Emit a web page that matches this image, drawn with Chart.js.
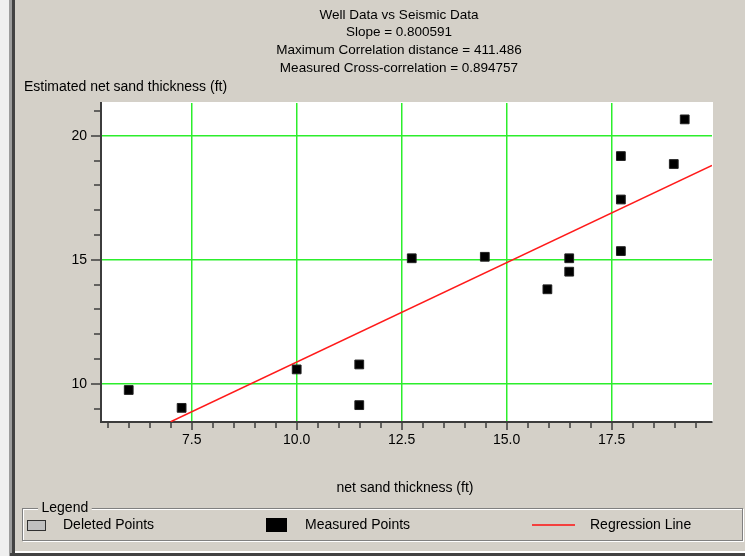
<!DOCTYPE html>
<html>
<head>
<meta charset="utf-8">
<script src="https://cdn.jsdelivr.net/npm/chart.js@4.4.0/dist/chart.umd.min.js"></script>
<style>
  html, body { margin: 0; padding: 0; background: #d4d0c8; }
  canvas { display: block; }
</style>
</head>
<body>
<canvas id="chart" width="745" height="556"></canvas>
<script>
// ===== Data =====
const MEASURED_X = [6.0, 7.26, 10.0, 11.49, 11.49, 12.74, 14.48, 15.97, 16.49, 16.49, 17.72, 17.72, 17.72, 18.98, 19.24];
const MEASURED_Y = [9.75, 9.03, 10.58, 10.78, 9.14, 15.06, 15.12, 13.81, 15.06, 14.52, 19.18, 17.43, 15.35, 18.86, 20.66];
const REG_X = [7.0, 19.89];
const REG_Y = [8.47, 18.8];

const X_MIN = 5.34, X_MAX = 19.89;
const Y_MIN = 8.46, Y_MAX = 21.32;
const X_MAJOR = 2.5, X_MINOR = 0.5;
const Y_MAJOR = 5, Y_MINOR = 1;

const TITLE_LINES = [
  'Well Data vs Seismic Data',
  'Slope = 0.800591',
  'Maximum Correlation distance = 411.486',
  'Measured Cross-correlation = 0.894757'
];
const Y_TITLE = 'Estimated net sand thickness (ft)';
const X_TITLE = 'net sand thickness (ft)';
const LEGEND_TITLE = 'Legend';
const LEGEND_ITEMS = ['Deleted Points', 'Measured Points', 'Regression Line'];

// ===== Styles =====
const FONT = '"Liberation Sans", Arial, sans-serif';
const BG = '#d4d0c8';
const GREEN = '#2cee2c';
const AXIS = '#3c3c3c';

const isMajor = (v, step) => Math.abs(v / step - Math.round(v / step)) < 1e-6;

// ---- background, window edges, tick marks, texts and the legend box ----
const framePlugin = {
  id: 'frame',
  beforeDraw(chart) {
    const { ctx, chartArea: a, width, height } = chart;
    ctx.save();
    ctx.fillStyle = BG;
    ctx.fillRect(0, 0, width, height);
    // left window edge
    ctx.fillStyle = '#efefef'; ctx.fillRect(0, 0, 9, height);
    ctx.fillStyle = '#9c9c9c'; ctx.fillRect(9, 0, 3, height);
    ctx.fillStyle = '#424242'; ctx.fillRect(12, 0, 3, height - 3);
    // bottom window edge
    ctx.fillStyle = '#ffffff'; ctx.fillRect(15, height - 5, width - 15, 2);
    ctx.fillStyle = '#424242'; ctx.fillRect(10, height - 3, width - 10, 3);
    // plot background
    ctx.fillStyle = '#ffffff';
    ctx.fillRect(a.left, a.top - 1, a.right - a.left + 1, a.bottom - a.top + 1);
    ctx.restore();
  },
  afterDraw(chart) {
    const { ctx, chartArea: a } = chart;
    const xs = chart.scales.x, ys = chart.scales.y;
    ctx.save();

    // tick marks (minor ticks shorter)
    ctx.strokeStyle = AXIS;
    ctx.lineWidth = 1.5;
    xs.ticks.forEach(t => {
      const px = Math.round(xs.getPixelForValue(t.value));
      const len = isMajor(t.value, X_MAJOR) ? 7 : 5;
      ctx.beginPath(); ctx.moveTo(px, a.bottom); ctx.lineTo(px, a.bottom + 1 + len); ctx.stroke();
    });
    ys.ticks.forEach(t => {
      const py = Math.round(ys.getPixelForValue(t.value));
      const len = isMajor(t.value, Y_MAJOR) ? 9 : 6;
      ctx.beginPath(); ctx.moveTo(a.left, py); ctx.lineTo(a.left - 1 - len, py); ctx.stroke();
    });

    // titles
    ctx.fillStyle = '#000';
    ctx.textBaseline = 'middle';
    ctx.textAlign = 'center';
    ctx.font = `13.5px ${FONT}`;
    TITLE_LINES.forEach((s, i) => ctx.fillText(s, 399, 15 + i * 17.7));
    ctx.font = `14px ${FONT}`;
    ctx.textAlign = 'left';
    ctx.fillText(Y_TITLE, 24, 87);
    ctx.textAlign = 'center';
    ctx.fillText(X_TITLE, 405, 488);

    // legend group box (etched)
    const gx = 22, gy = 508, gr = 742, gb = 540;
    ctx.lineWidth = 1;
    ctx.strokeStyle = '#ffffff';
    ctx.strokeRect(gx + 1.5, gy + 1.5, gr - gx, gb - gy);
    ctx.strokeStyle = '#808080';
    ctx.strokeRect(gx + 0.5, gy + 0.5, gr - gx, gb - gy);
    ctx.textAlign = 'left';
    const lw = ctx.measureText(LEGEND_TITLE).width;
    ctx.fillStyle = BG;
    ctx.fillRect(38, gy - 3, lw + 7, 6);
    ctx.fillStyle = '#000';
    ctx.fillText(LEGEND_TITLE, 41.5, gy);

    // legend items
    const ly = 525;
    ctx.fillStyle = '#c0c0c0';
    ctx.fillRect(27, 520, 19, 11);
    ctx.strokeStyle = '#303030';
    ctx.strokeRect(27.5, 520.5, 18, 10);
    ctx.fillStyle = '#000';
    ctx.fillText(LEGEND_ITEMS[0], 63, ly);

    ctx.fillRect(266, 518, 21, 14);
    ctx.fillText(LEGEND_ITEMS[1], 305, ly);

    ctx.strokeStyle = '#ff1010';
    ctx.lineWidth = 1.5;
    ctx.beginPath(); ctx.moveTo(532, ly); ctx.lineTo(575, ly); ctx.stroke();
    ctx.fillText(LEGEND_ITEMS[2], 590, ly);

    ctx.restore();
  }
};

new Chart(document.getElementById('chart'), {
  type: 'scatter',
  data: {
    datasets: [
      {
        label: LEGEND_ITEMS[1],
        data: MEASURED_X.map((x, i) => ({ x, y: MEASURED_Y[i] })),
        pointStyle: 'rect',
        pointRadius: 6.2,
        backgroundColor: '#000',
        borderColor: '#222',
        borderWidth: 1,
        order: 1
      },
      {
        label: LEGEND_ITEMS[2],
        type: 'line',
        data: REG_X.map((x, i) => ({ x, y: REG_Y[i] })),
        borderColor: '#ff1a1a',
        borderWidth: 1.5,
        pointRadius: 0,
        fill: false,
        order: 2
      }
    ]
  },
  options: {
    responsive: false,
    animation: false,
    events: [],
    layout: { padding: { left: 0, right: 33, top: 103, bottom: 94 } },
    plugins: {
      legend: { display: false },
      title: { display: false },
      tooltip: { enabled: false }
    },
    scales: {
      x: {
        type: 'linear',
        min: X_MIN,
        max: X_MAX,
        afterFit: s => { s.height = 40; },
        ticks: {
          stepSize: X_MINOR,
          includeBounds: false,
          autoSkip: false,
          maxRotation: 0,
          padding: 10,
          color: '#000',
          font: { family: FONT, size: 14 },
          callback: v => isMajor(v, X_MAJOR) ? v.toFixed(1) : ''
        },
        grid: {
          color: c => (c.tick && isMajor(c.tick.value, X_MAJOR)) ? GREEN : 'rgba(0,0,0,0)',
          lineWidth: 1.5,
          drawTicks: false
        },
        border: { color: AXIS, width: 2 }
      },
      y: {
        type: 'linear',
        min: Y_MIN,
        max: Y_MAX,
        afterFit: s => { s.width = 101; },
        ticks: {
          stepSize: Y_MINOR,
          includeBounds: false,
          autoSkip: false,
          padding: 14,
          color: '#000',
          font: { family: FONT, size: 14 },
          callback: v => isMajor(v, Y_MAJOR) ? String(v) : ''
        },
        grid: {
          color: c => (c.tick && isMajor(c.tick.value, Y_MAJOR)) ? GREEN : 'rgba(0,0,0,0)',
          lineWidth: 1.5,
          drawTicks: false
        },
        border: { color: AXIS, width: 2 }
      }
    }
  },
  plugins: [framePlugin]
});
</script>
</body>
</html>
